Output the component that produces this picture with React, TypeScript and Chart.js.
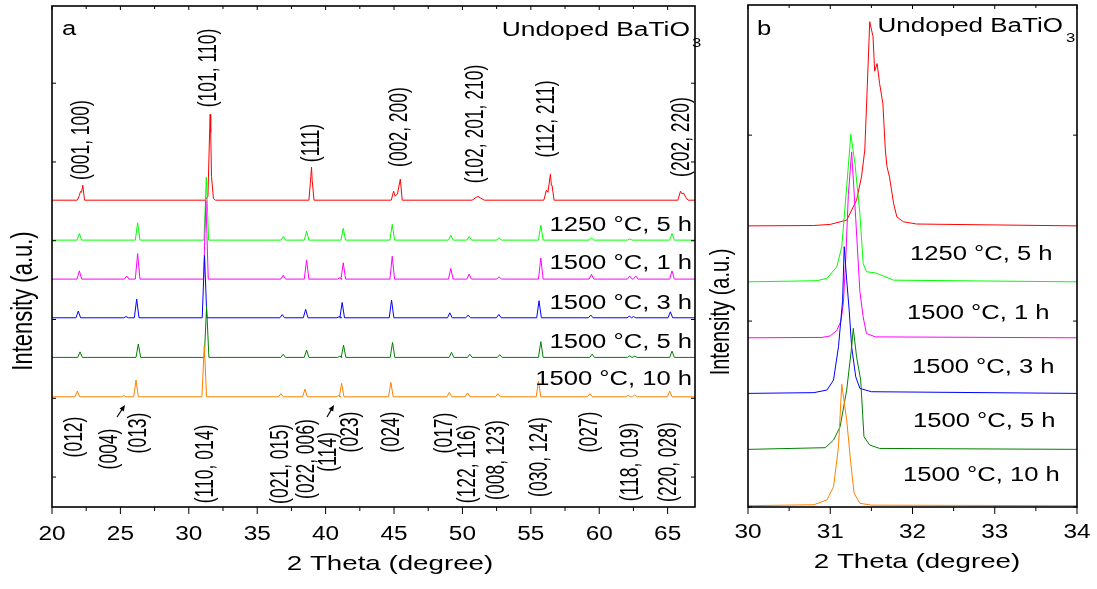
import React, { useEffect, useRef } from "react";
import { Chart, registerables } from "chart.js";
Chart.register(...registerables);

const FONT = '"Liberation Sans", Arial, sans-serif';

// ---------- shared ----------
const seriesColors = ["#ff0000", "#00ff00", "#ff00ff", "#0000ff", "#008000", "#ff8000"];
const sampleLabels = ["1250 \u00B0C, 5 h", "1500 \u00B0C, 1 h", "1500 \u00B0C, 3 h", "1500 \u00B0C, 5 h", "1500 \u00B0C, 10 h"];

// ---------- panel a ----------
const aXMajor = [20, 25, 30, 35, 40, 45, 50, 55, 60, 65];
const aXMinor = [22.5, 27.5, 32.5, 37.5, 42.5, 47.5, 52.5, 57.5, 62.5];
const aYTicks = [0, 10, 20, 30, 40, 50];
const aOffsets = [35.15, 30.08, 25.13, 20.22, 15.19, 10.19];

// undoped (relative to baseline), explicit points
const aRed: [number, number][] = [
  [20, 0], [21.85, 0], [22.0, 0.6], [22.08, 1.1], [22.16, 1.0], [22.25, 1.9], [22.38, 0],
  [31.2, 0], [31.4, 0.5], [31.48, 6], [31.56, 10.9], [31.6, 8.6], [31.66, 3], [31.8, 0.2], [31.95, 0],
  [38.78, 0], [38.92, 3.0], [38.97, 4.2], [39.02, 2.5], [39.15, 0],
  [44.8, 0], [44.97, 1.14], [45.08, 0.5], [45.25, 0.8], [45.46, 2.67], [45.6, 0],
  [50.7, 0], [51.0, 0.35], [51.14, 0.47], [51.3, 0.3], [51.6, 0],
  [55.95, 0], [56.14, 1.27], [56.25, 1.0], [56.43, 3.3], [56.5, 1.9], [56.55, 1.9], [56.7, 0],
  [65.75, 0], [65.94, 1.14], [66.05, 0.8], [66.16, 0.9], [66.35, 0.3], [66.5, 0], [67, 0],
];
// peaks [2theta, height above baseline]
const aGreenPeaks: [number, number][] = [
  [22.0, 0.85], [26.26, 2.2], [31.28, 8.0], [36.9, 0.45], [38.61, 1.15], [41.29, 1.5], [44.87, 2.0],
  [49.15, 0.63], [50.49, 0.45], [52.68, 0.3], [55.73, 1.9], [59.43, 0.3], [62.23, 0.15], [65.32, 0.85],
];
const aMagentaPeaks: [number, number][] = [
  [22.0, 1.05], [25.46, 0.4], [26.26, 3.25], [31.25, 10.0], [36.9, 0.5], [38.61, 2.4], [41.04, 0.17],
  [41.29, 2.07], [44.87, 2.9], [49.15, 1.35], [50.49, 0.63], [52.68, 0.3], [55.73, 2.67], [59.43, 0.6],
  [62.23, 0.4], [62.67, 0.4], [65.32, 1.05],
];
const aBluePeaks: [number, number][] = [
  [21.92, 0.85], [25.41, 0.15], [26.19, 2.37], [31.15, 7.9], [36.83, 0.4], [38.54, 1.07], [41.0, 0.15],
  [41.21, 1.95], [44.82, 2.25], [49.08, 0.63], [50.42, 0.35], [52.66, 0.43], [55.6, 2.16], [59.38, 0.35],
  [62.2, 0.2], [62.5, 0.15], [65.2, 0.76],
];
const aDarkGreenPeaks: [number, number][] = [
  [22.05, 0.7], [26.31, 1.7], [31.3, 6.45], [36.9, 0.4], [38.61, 0.93], [41.04, 0.15], [41.31, 1.56],
  [44.89, 1.9], [49.2, 0.63], [50.54, 0.4], [52.73, 0.35], [55.73, 2.0], [59.48, 0.42], [62.23, 0.2],
  [62.6, 0.15], [65.32, 0.8],
];
const aOrangePeaks: [number, number][] = [
  [21.85, 0.72], [25.25, 0.15], [26.14, 2.12], [31.13, 6.5], [36.73, 0.4], [38.49, 0.98], [40.95, 0.15],
  [41.17, 1.7], [44.77, 1.83], [49.04, 0.56], [50.37, 0.5], [52.59, 0.4], [55.56, 2.0], [59.31, 0.4],
  [62.11, 0.2], [62.6, 0.25], [65.15, 0.72],
];

// ---------- panel b ----------
const bXMajor = [30, 31, 32, 33, 34];
const bXMinor = [30.5, 31.5, 32.5, 33.5];
const bYTicks = [0, 10, 20];
const bRed: [number, number][] = [
  [30, 15.12], [30.8, 15.14], [31.0, 15.2], [31.2, 15.43], [31.32, 16.5], [31.38, 17.76], [31.42, 19.2],
  [31.45, 22.6], [31.48, 26.1], [31.52, 25.3], [31.54, 23.44], [31.57, 23.85], [31.6, 22.78], [31.64, 21.7],
  [31.67, 19.2], [31.69, 18.3], [31.72, 17.76], [31.77, 16.33], [31.81, 15.6], [31.89, 15.34], [32.05, 15.22],
  [34, 15.12],
];
const bGreen: [number, number][] = [
  [30, 12.11], [30.84, 12.17], [30.96, 12.3], [31.08, 12.92], [31.14, 14.0], [31.2, 17.22], [31.25, 20.04],
  [31.3, 18.48], [31.36, 15.79], [31.4, 13.1], [31.44, 12.65], [31.54, 12.6], [31.65, 12.42], [31.77, 12.2],
  [34, 12.11],
];
const bMagenta: [number, number][] = [
  [30, 9.1], [30.9, 9.12], [31.0, 9.2], [31.08, 9.5], [31.13, 10.0], [31.16, 11.0], [31.19, 13.5],
  [31.22, 16.8], [31.26, 19.1], [31.31, 15.5], [31.36, 11.6], [31.4, 10.23], [31.44, 9.33], [31.55, 9.15],
  [34, 9.1],
];
const bBlue: [number, number][] = [
  [30, 6.11], [30.8, 6.15], [30.96, 6.29], [31.04, 6.83], [31.1, 8.62], [31.15, 11.1], [31.17, 14.0],
  [31.2, 12.2], [31.23, 10.6], [31.26, 8.62], [31.31, 7.0], [31.36, 6.38], [31.5, 6.2], [34, 6.11],
];
const bDarkGreen: [number, number][] = [
  [30, 3.1], [30.94, 3.19], [31.04, 3.6], [31.12, 4.32], [31.2, 6.29], [31.26, 8.6], [31.28, 9.61],
  [31.32, 8.08], [31.37, 6.83], [31.41, 3.78], [31.48, 3.33], [31.6, 3.15], [34, 3.1],
];
const bOrange: [number, number][] = [
  [30, 0.07], [30.8, 0.12], [30.96, 0.38], [31.04, 1.09], [31.1, 3.24], [31.14, 6.6], [31.2, 4.68],
  [31.25, 2.35], [31.29, 0.74], [31.36, 0.2], [31.5, 0.1], [34, 0.07],
];

// ---------- text annotations (page coordinates) ----------
type TextItem = { t: string; x: number; y: number; size: number; align?: CanvasTextAlign; rot?: boolean; s?: number };

const topPeakLabels: [string, number, number][] = [
  ["(001, 100)", 82, 140], ["(101, 110)", 209, 68], ["(111)", 312, 143], ["(002, 200)", 400, 127],
  ["(102, 201, 210)", 476, 124], ["(112, 211)", 547, 119], ["(202, 220)", 682, 137],
];
const bottomPeakLabels: [string, number, number][] = [
  ["(012)", 75, 437], ["(004)", 110, 449], ["(013)", 139, 433], ["(110, 014)", 206, 464],
  ["(021, 015)", 281, 464], ["(022, 006)", 307, 459], ["(114)", 329, 452], ["(023)", 351, 432],
  ["(024)", 392, 432], ["(017)", 445, 433], ["(122, 116)", 468, 464], ["(008, 123)", 497, 460],
  ["(030, 124)", 540, 457], ["(027)", 590, 432], ["(118, 019)", 631, 462], ["(220, 028)", 669, 462],
];
const aLabelBaselines = [231, 269, 309, 348, 385];
const bLabelPos: [number, number][] = [[910, 260], [907, 319], [912, 373], [913, 427], [903, 481]];

const aTexts: TextItem[] = [
  { t: "a", x: 62, y: 35, size: 20, align: "left" },
  { t: "Undoped BaTiO", x: 690, y: 36, size: 20, align: "right", s: 1.32 },
  { t: "3", x: 692, y: 47, size: 13, align: "left" },
  ...sampleLabels.map((t, i) => ({ t, x: 692, y: aLabelBaselines[i], size: 20, align: "right" as CanvasTextAlign })),
  ...topPeakLabels.map(([t, x, y]) => ({ t, x, y, size: 17.5, rot: true, s: 1.45 })),
  ...bottomPeakLabels.map(([t, x, y]) => ({ t, x, y, size: 17.5, rot: true, s: 1.45 })),
  { t: "Intensity (a.u.)", x: 24, y: 301, size: 22, rot: true, s: 1.35 },
  { t: "2 Theta (degree)", x: 390, y: 570, size: 21, s: 1.32 },
];
const bTexts: TextItem[] = [
  { t: "b", x: 757, y: 35, size: 20, align: "left" },
  { t: "Undoped BaTiO", x: 1063, y: 32, size: 20, align: "right", s: 1.3 },
  { t: "3", x: 1066, y: 42, size: 13, align: "left" },
  ...sampleLabels.map((t, i) => ({ t, x: bLabelPos[i][0], y: bLabelPos[i][1], size: 20, align: "left" as CanvasTextAlign })),
  { t: "Intensity (a.u.)", x: 722, y: 312, size: 20, rot: true, s: 1.35 },
  { t: "2 Theta (degree)", x: 917, y: 568, size: 21, s: 1.32 },
];
const aArrows: [number, number, number, number][] = [[117, 417, 125, 405], [327, 417, 334, 405]];

function drawText(ctx: CanvasRenderingContext2D, it: TextItem, dx: number) {
  ctx.save();
  ctx.font = `${it.size}px ${FONT}`;
  ctx.fillStyle = "#000";
  ctx.translate(it.x - dx, it.y);
  if (it.rot) {
    ctx.rotate(-Math.PI / 2);
    ctx.scale(1, it.s ?? 1.3);
    ctx.textBaseline = "middle";
  } else {
    ctx.scale(it.s ?? 1.28, 1);
    ctx.textBaseline = "alphabetic";
  }
  ctx.textAlign = it.align ?? "center";
  ctx.fillText(it.t, 0, 0);
  ctx.restore();
}

const decoPlugin = {
  id: "deco",
  afterDraw(chart: any, _a: any, opts: any) {
    const { ctx, chartArea: ca, scales } = chart;
    const xs = scales.x, ys = scales.y;
    const dx = opts.dx;
    ctx.save();
    ctx.strokeStyle = "#000";
    ctx.lineWidth = 1;
    const ln = (x1: number, y1: number, x2: number, y2: number) => {
      ctx.beginPath(); ctx.moveTo(x1, y1); ctx.lineTo(x2, y2); ctx.stroke();
    };
    for (const v of opts.xMajor) {
      const px = xs.getPixelForValue(v);
      ln(px, ca.bottom, px, ca.bottom + 7);
      ln(px, ca.top, px, ca.top + 4);
    }
    for (const v of opts.xMinor) {
      const px = xs.getPixelForValue(v);
      ln(px, ca.bottom, px, ca.bottom + 4);
      ln(px, ca.top, px, ca.top + 3);
    }
    for (const v of opts.yTicks) {
      const py = ys.getPixelForValue(v);
      ln(ca.left, py, ca.left + 4, py);
      ln(ca.right - 4, py, ca.right, py);
    }
    ctx.lineWidth = 1.6;
    ctx.strokeRect(ca.left, ca.top, ca.right - ca.left, ca.bottom - ca.top);
    for (const v of opts.xMajor) {
      drawText(ctx, { t: String(v), x: xs.getPixelForValue(v) + dx, y: opts.tickY, size: 20, s: 1.22 }, dx);
    }
    for (const it of opts.texts) drawText(ctx, it, dx);
    ctx.fillStyle = "#000";
    ctx.lineWidth = 1.2;
    for (const [x1, y1, x2, y2] of opts.arrows) {
      const ax1 = x1 - dx, ax2 = x2 - dx;
      const len = Math.hypot(ax2 - ax1, y2 - y1);
      const ux = (ax2 - ax1) / len, uy = (y2 - y1) / len;
      ln(ax1, y1, ax2 - ux * 3, y2 - uy * 3);
      ctx.beginPath();
      ctx.moveTo(ax2, y2);
      ctx.lineTo(ax2 - ux * 6 - uy * 2.6, y2 - uy * 6 + ux * 2.6);
      ctx.lineTo(ax2 - ux * 6 + uy * 2.6, y2 - uy * 6 - ux * 2.6);
      ctx.closePath();
      ctx.fill();
    }
    ctx.restore();
  },
};

function peaksToPoints(peaks: [number, number][], base: number, xmin: number, xmax: number) {
  const hw = 0.17;
  const pts = [{ x: xmin, y: base }];
  for (const [p, h] of peaks) {
    pts.push({ x: p - hw, y: base }, { x: p, y: base + h }, { x: p + hw, y: base });
  }
  pts.push({ x: xmax, y: base });
  return pts;
}

function makeChart(canvas: HTMLCanvasElement, datasets: any[], cfg: any) {
  return new Chart(canvas, {
    type: "line",
    data: { datasets },
    options: {
      responsive: false,
      animation: false,
      events: [],
      layout: { padding: cfg.padding },
      plugins: {
        legend: { display: false },
        tooltip: { enabled: false },
        deco: cfg.deco,
      } as any,
      scales: {
        x: { type: "linear", min: cfg.xmin, max: cfg.xmax, display: false },
        y: { type: "linear", min: cfg.ymin, max: cfg.ymax, display: false },
      },
      elements: { point: { radius: 0 }, line: { borderWidth: 1, tension: 0 } },
    },
    plugins: [decoPlugin],
  });
}

export default function App() {
  const refA = useRef<HTMLCanvasElement>(null);
  const refB = useRef<HTMLCanvasElement>(null);

  useEffect(() => {
    const aSeries = [
      aRed.map(([x, y]) => ({ x, y: y + aOffsets[0] })),
      peaksToPoints(aGreenPeaks, aOffsets[1], 20, 67),
      peaksToPoints(aMagentaPeaks, aOffsets[2], 20, 67),
      peaksToPoints(aBluePeaks, aOffsets[3], 20, 67),
      peaksToPoints(aDarkGreenPeaks, aOffsets[4], 20, 67),
      peaksToPoints(aOrangePeaks, aOffsets[5], 20, 67),
    ];
    const bSeries = [bRed, bGreen, bMagenta, bBlue, bDarkGreen, bOrange].map((s) => s.map(([x, y]) => ({ x, y })));
    const toDs = (series: any[]) =>
      series
        .map((data, i) => ({ data, borderColor: seriesColors[i], borderWidth: 1, pointRadius: 0, fill: false }))
        .reverse();

    const ca = makeChart(refA.current!, toDs(aSeries), {
      padding: { left: 52, right: 25, top: 6, bottom: 82 },
      xmin: 20, xmax: 67, ymin: -3.8, ymax: 59.8,
      deco: { dx: 0, xMajor: aXMajor, xMinor: aXMinor, yTicks: aYTicks, tickY: 540, texts: aTexts, arrows: aArrows },
    });
    const cb = makeChart(refB.current!, toDs(bSeries), {
      padding: { left: 48, right: 20, top: 5, bottom: 82 },
      xmin: 30, xmax: 34, ymin: 0, ymax: 27,
      deco: { dx: 700, xMajor: bXMajor, xMinor: bXMinor, yTicks: bYTicks, tickY: 538, texts: bTexts, arrows: [] },
    });
    return () => {
      ca.destroy();
      cb.destroy();
    };
  }, []);

  return (
    <div style={{ position: "absolute", left: 0, top: 0, width: 1097, height: 589, background: "#fff", overflow: "hidden" }}>
      <canvas ref={refA} width={720} height={589} style={{ position: "absolute", left: 0, top: 0 }} />
      <canvas ref={refB} width={397} height={589} style={{ position: "absolute", left: 700, top: 0 }} />
    </div>
  );
}
